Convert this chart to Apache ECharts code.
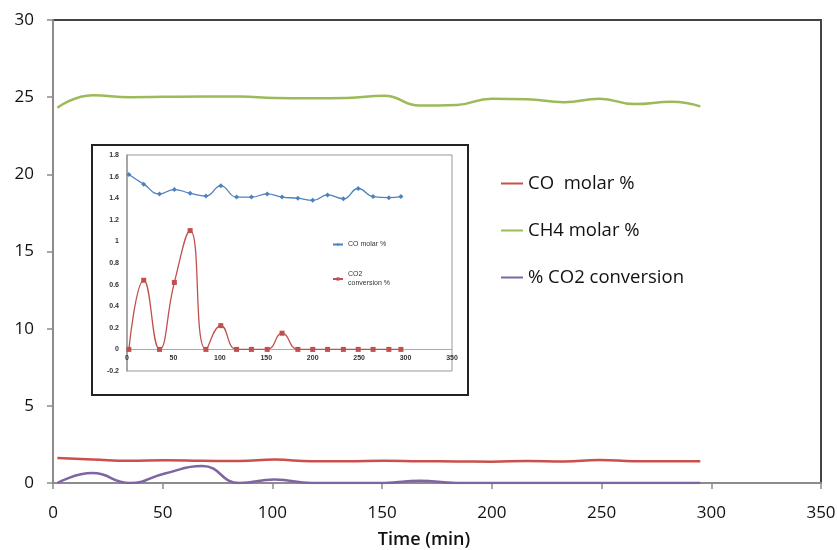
<!DOCTYPE html>
<html><head><meta charset="utf-8">
<script src="https://cdn.jsdelivr.net/npm/echarts@6/dist/echarts.min.js"></script>
<style>html,body{margin:0;padding:0;background:#fff}#c{width:837px;height:550px}</style>
</head><body><div id="c"></div>
<script>
// Data
const timeMin = [2, 18, 35, 51, 68, 85, 101, 118, 134, 151, 167, 184, 200, 216, 233, 249, 265, 282, 295];
const coMolar = [1.62, 1.53, 1.44, 1.48, 1.445, 1.42, 1.515, 1.41, 1.41, 1.44, 1.41, 1.40, 1.38, 1.43, 1.395, 1.49, 1.415, 1.405, 1.415];
const ch4Molar = [24.31, 25.13, 25.0, 25.02, 25.04, 25.04, 24.95, 24.93, 24.95, 25.09, 24.46, 24.5, 24.9, 24.87, 24.67, 24.9, 24.55, 24.7, 24.4];
const co2Conv = [0, 0.64, 0, 0.62, 1.10, 0, 0.22, 0, 0, 0, 0.15, 0, 0, 0, 0, 0, 0, 0, 0];
const mainYTicks = [0, 5, 10, 15, 20, 25, 30];
const mainXTicks = [0, 50, 100, 150, 200, 250, 300, 350];
const insetYTicks = [-0.2, 0, 0.2, 0.4, 0.6, 0.8, 1, 1.2, 1.4, 1.6, 1.8];

const mainNames = ['CO  molar %', 'CH4 molar %', '% CO2 conversion'];
const insetNames = ['CO molar %', 'CO2\nconversion %'];

const pairs = (ys) => timeMin.map((t, i) => [t, ys[i]]);
const FONT = "'Open Sans', sans-serif";
const ARIAL = "'Liberation Sans', Arial, sans-serif";

const chart = echarts.init(document.getElementById('c'), null, {renderer: 'canvas'});
chart.setOption({
  animation: false,
  backgroundColor: '#fff',
  graphic: [{
    type: 'rect', z: 100,
    shape: {x: 92, y: 145, width: 376, height: 250},
    style: {fill: 'none', stroke: '#222', lineWidth: 2}
  }],
  legend: [{
    orient: 'vertical', left: 501, top: 171, padding: 0,
    icon: 'rect', itemWidth: 22, itemHeight: 2, itemGap: 22, itemTextGap: 4,
    data: mainNames,
    textStyle: {fontFamily: FONT, fontSize: 18.5, color: '#111', lineHeight: 25}
  }, {
    orient: 'vertical', left: 332, top: 240, padding: 0, itemGap: 21, itemTextGap: 2,
    itemWidth: 10, itemHeight: 4,
    data: insetNames,
    textStyle: {fontFamily: ARIAL, fontSize: 7, color: '#333', lineHeight: 9}
  }],
  grid: [{
    left: 53, right: 16, top: 20, bottom: 67, outerBoundsMode: 'none',
    show: true, borderColor: '#444', borderWidth: 2, backgroundColor: 'transparent'
  }, {
    left: 127, right: 385, top: 155, bottom: 179, outerBoundsMode: 'none',
    show: true, borderColor: '#999', borderWidth: 1, backgroundColor: 'transparent', z: 101
  }],
  xAxis: [{
    gridIndex: 0, type: 'value', min: 0, max: 350, interval: 50,
    name: 'Time (min)', nameLocation: 'middle', nameGap: 48,
    nameTextStyle: {fontFamily: FONT, fontSize: 18, fontWeight: 600, color: '#111', padding: [0, 26, 0, 0]},
    axisLine: {lineStyle: {color: '#8c8c8c', width: 2}},
    axisTick: {show: true, inside: false, length: 6, lineStyle: {color: '#8c8c8c', width: 1.5}},
    axisLabel: {fontFamily: FONT, fontSize: 17, color: '#111', margin: 22},
    splitLine: {show: false}
  }, {
    gridIndex: 1, type: 'value', min: 0, max: 350, interval: 50, z: 101,
    offset: -21.6,
    axisLine: {onZero: false, lineStyle: {color: '#aaa', width: 1}},
    axisTick: {show: false},
    axisLabel: {fontFamily: ARIAL, fontSize: 7, color: '#333', fontWeight: 'bold', margin: 5},
    splitLine: {show: false}
  }],
  yAxis: [{
    gridIndex: 0, type: 'value', min: 0, max: 30, interval: 5,
    axisLine: {show: true, lineStyle: {color: '#8c8c8c', width: 2}},
    axisTick: {show: true, inside: false, length: 6, lineStyle: {color: '#8c8c8c', width: 1.5}},
    axisLabel: {fontFamily: FONT, fontSize: 17, color: '#111', margin: 19},
    splitLine: {show: false}
  }, {
    gridIndex: 1, type: 'value', min: -0.2, max: 1.8, interval: 0.2, z: 101,
    axisLine: {show: true, onZero: false, lineStyle: {color: '#999', width: 1.5}},
    axisTick: {show: false},
    axisLabel: {fontFamily: ARIAL, fontSize: 7, color: '#333', fontWeight: 'bold', margin: 8,
      formatter: (v) => String(Math.round(v * 10) / 10)},
    splitLine: {show: false}
  }],
  series: [{
    name: mainNames[0], type: 'line', xAxisIndex: 0, yAxisIndex: 0,
    data: pairs(coMolar), smooth: true, showSymbol: false, symbol: 'none',
    lineStyle: {color: '#c9504d', width: 2.5}, itemStyle: {color: '#c9504d'}
  }, {
    name: mainNames[1], type: 'line', xAxisIndex: 0, yAxisIndex: 0,
    data: pairs(ch4Molar), smooth: true, showSymbol: false, symbol: 'none',
    lineStyle: {color: '#9bbb59', width: 2.5}, itemStyle: {color: '#9bbb59'}
  }, {
    name: mainNames[2], type: 'line', xAxisIndex: 0, yAxisIndex: 0,
    data: pairs(co2Conv), smooth: true, showSymbol: false, symbol: 'none',
    lineStyle: {color: '#8064a2', width: 2.5}, itemStyle: {color: '#8064a2'}
  }, {
    name: insetNames[0], type: 'line', xAxisIndex: 1, yAxisIndex: 1, z: 102,
    data: pairs(coMolar), smooth: true, symbol: 'diamond', symbolSize: 5,
    lineStyle: {color: '#4f81bd', width: 1.3}, itemStyle: {color: '#4f81bd'}
  }, {
    name: insetNames[1], type: 'line', xAxisIndex: 1, yAxisIndex: 1, z: 102,
    data: pairs(co2Conv), smooth: true, symbol: 'rect', symbolSize: 5,
    lineStyle: {color: '#c0504d', width: 1.3}, itemStyle: {color: '#c0504d'}
  }]
});
</script></body></html>
